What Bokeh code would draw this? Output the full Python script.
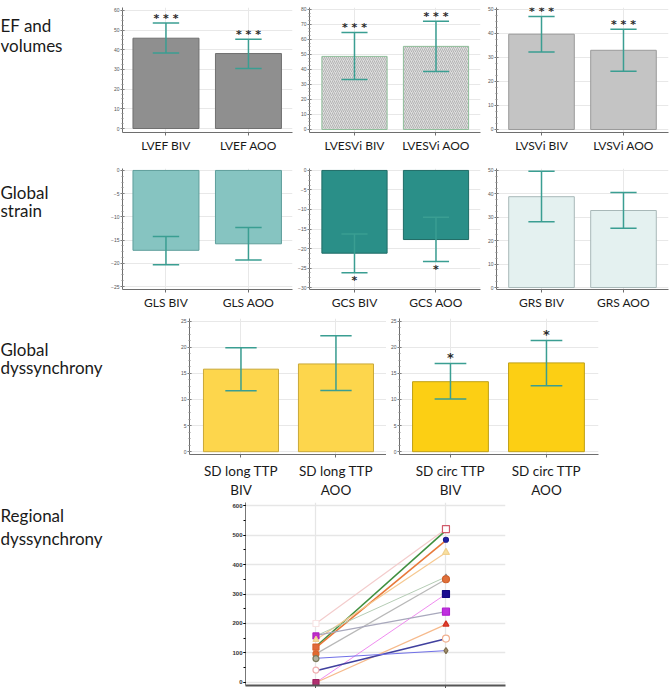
from bokeh.plotting import figure
from bokeh.models import Range1d, FixedTicker, ColumnDataSource, Spacer
from bokeh.layouts import row, column
from bokeh.embed import file_html
from bokeh.resources import INLINE
from bokeh.core.properties import value

# ---------------- data ----------------
lvef_labels = ["LVEF BIV", "LVEF AOO"]
lvef_mean = [45.9, 38.1]
lvef_lo = [38.4, 30.5]
lvef_hi = [53.6, 45.4]
lvef_sig = ["* * *", "* * *"]

lvesvi_labels = ["LVESVi BIV", "LVESVi AOO"]
lvesvi_mean = [48.7, 55.4]
lvesvi_lo = [33.3, 38.7]
lvesvi_hi = [64.6, 72.2]
lvesvi_sig = ["* * *", "* * *"]

lvsvi_labels = ["LVSVi BIV", "LVSVi AOO"]
lvsvi_mean = [39.7, 33.0]
lvsvi_lo = [32.3, 24.3]
lvsvi_hi = [47.1, 41.8]
lvsvi_sig = ["* * *", "* * *"]

gls_labels = ["GLS BIV", "GLS AOO"]
gls_mean = [-17.2, -15.8]
gls_lo = [-20.3, -19.3]
gls_hi = [-14.2, -12.3]

gcs_labels = ["GCS BIV", "GCS AOO"]
gcs_mean = [-21.2, -17.7]
gcs_lo = [-26.2, -23.3]
gcs_hi = [-16.3, -12.0]
gcs_sig = ["*", "*"]

grs_labels = ["GRS BIV", "GRS AOO"]
grs_mean = [38.8, 32.9]
grs_lo = [28.1, 25.3]
grs_hi = [49.7, 40.6]

sdl_labels = ["SD long TTP\nBIV", "SD long TTP\nAOO"]
sdl_mean = [15.8, 16.8]
sdl_lo = [11.65, 11.7]
sdl_hi = [19.9, 22.2]

sdc_labels = ["SD circ TTP\nBIV", "SD circ TTP\nAOO"]
sdc_mean = [13.4, 17.0]
sdc_lo = [10.1, 12.6]
sdc_hi = [16.9, 21.3]
sdc_sig = ["*", "*"]

# regional dyssynchrony (AOO -> BIV), one entry per patient line
reg_aoo = [200, 122, 118, 145, 158, 97, 0, 160, 0, 40, 82]
reg_biv = [520, 516, 482, 441, 358, 350, 300, 240, 197, 148, 108]
reg_line_colors = ["#f3cccc", "#3f8f3f", "#e8793a", "#f6c890", "#b5cdb5", "#b8b8b8",
                   "#f08cf0", "#a8a8bc", "#f6ba8c", "#40409e", "#7070e8"]
reg_line_widths = [1.2, 1.6, 1.6, 1.2, 1.0, 1.2, 1.0, 1.2, 1.3, 1.6, 1.0]

left_marker_vals = [200, 158, 145, 120, 97, 81, 42, 0]
left_marker_types = ["square", "square", "triangle", "square", "circle", "circle", "circle", "square"]
left_marker_line = ["#f8e4e4", "#b020c0", "#f0d090", "#d8602a", "#d8602a", "#7a7a5a", "#f0b0b0", "#a02060"]
left_marker_fill = ["white", "#c030c8", "#f8e0a0", "#e06a3a", "#e06a30", "#b0b0a0", "white", "#b03070"]

right_marker_vals = [520, 484, 441, 358, 350, 300, 240, 197, 149, 108]
right_marker_types = ["square", "circle", "triangle", "triangle", "circle", "square", "square",
                      "triangle", "circle", "diamond"]
right_marker_line = ["#d05a6a", "#1a1a90", "#f0d090", "#909090", "#d0602a", "#140a80", "#b020d0",
                     "#d03020", "#f0b090", "#807050"]
right_marker_fill = ["white", "#2020a0", "#f8e0a0", "#a0a0a0", "#e0703a", "#1c0c90", "#c030e0",
                     "#e04030", "white", "#a09070"]
right_marker_sizes = [7, 5, 7, 5, 7, 7, 7, 6, 7, 6]
reg_ticks = [0, 100, 200, 300, 400, 500, 600]

LABEL_FONT = "Lato"
ERR = "#3a9e92"
XS = [1, 2]


def text_fig(w, h, lines, ys):
    p = figure(width=w, height=h, x_range=Range1d(0, w), y_range=Range1d(h, 0),
               output_backend="svg", toolbar_location=None, min_border=0)
    p.axis.visible = False
    p.grid.visible = False
    p.outline_line_color = None
    p.text(x=[0] * len(lines), y=ys, text=lines, text_baseline="middle", text_align="left",
           text_font=value(LABEL_FONT), text_font_size="17px", text_color="#1a1a1a")
    return p


def bar_panel(labels, mean, lo, hi, width, height, bl, br, bt, bb, xr, yr, ticks, minor,
              fill, line, hatch=None, sig=None, sig_below=False, star_size="11px", star_off=0,
              label_size="12px", bar_w=0.8, cap_w=0.32, standoff=2):
    p = figure(width=width, height=height, x_range=Range1d(*xr), y_range=Range1d(*yr),
               output_backend="svg", toolbar_location=None,
               min_border_left=bl, min_border_right=br, min_border_top=bt, min_border_bottom=bb)
    p.outline_line_color = None
    src = ColumnDataSource(dict(x=XS, mean=mean, lo=lo, hi=hi,
                                cx0=[x - cap_w / 2 for x in XS], cx1=[x + cap_w / 2 for x in XS]))
    kw = {}
    if hatch:
        kw = dict(hatch_pattern=hatch, hatch_color="#a8a8a8", hatch_scale=4, hatch_weight=0.8)
    p.vbar(x="x", top="mean", bottom=0, width=bar_w, fill_color=fill, line_color=line,
           line_width=1, source=src, **kw)
    p.segment(x0="x", x1="x", y0="lo", y1="hi", line_color=ERR, line_width=1.5, source=src)
    p.segment(x0="cx0", x1="cx1", y0="lo", y1="lo", line_color=ERR, line_width=1.5, source=src)
    p.segment(x0="cx0", x1="cx1", y0="hi", y1="hi", line_color=ERR, line_width=1.5, source=src)
    if sig:
        p.text(x=XS, y=lo if sig_below else hi, text=sig, text_align="center",
               text_baseline="alphabetic", text_font=value("DejaVu Sans"), text_font_style="bold",
               text_font_size=star_size, text_color="#2a2a2a", y_offset=star_off)
    p.xaxis.ticker = FixedTicker(ticks=XS)
    p.xaxis.major_label_overrides = {1: labels[0], 2: labels[1]}
    p.xaxis.major_label_text_font = LABEL_FONT
    p.xaxis.major_label_text_font_size = label_size
    p.xaxis.major_label_text_color = "#1a1a1a"
    p.xaxis.major_label_standoff = standoff
    p.xaxis.major_tick_out = 3
    p.xaxis.major_tick_in = 0
    p.xaxis.minor_tick_out = 0
    p.yaxis.ticker = FixedTicker(ticks=ticks, minor_ticks=minor)
    p.yaxis.major_label_text_font_size = "5px"
    p.yaxis.major_label_text_color = "#555555"
    p.yaxis.major_label_standoff = 1
    p.yaxis.major_tick_out = 2
    p.yaxis.major_tick_in = 2
    p.yaxis.minor_tick_out = 1
    p.yaxis.minor_tick_in = 1
    for ax in (p.xaxis, p.yaxis):
        ax.axis_line_color = "#6e6e6e"
        ax.major_tick_line_color = "#6e6e6e"
        ax.minor_tick_line_color = "#8e8e8e"
    p.xgrid.ticker = FixedTicker(ticks=XS)
    p.grid.grid_line_color = "#e8e8e8"
    return p


def rng(start, step):
    out = []
    v = start[0]
    while v <= start[1] + 1e-9:
        out.append(v)
        v += step
    return out


# ---------------- row 1 ----------------
r1_h = 158
t1 = text_fig(108, r1_h, ["EF and", "volumes"], [23, 48])
pA = bar_panel(lvef_labels, lvef_mean, lvef_lo, lvef_hi, 187, r1_h, 14, 3, 7, 26,
               (0.473, 2.534), (-2.03, 61.5), rng((0, 60), 10), rng((0, 60), 2.5),
               "#8f8f8f", "#707070", sig=lvef_sig, star_off=-5)
pB = bar_panel(lvesvi_labels, lvesvi_mean, lvesvi_lo, lvesvi_hi, 188, r1_h, 14, 3, 7, 26,
               (0.448, 2.546), (-2.0, 81.3), rng((0, 80), 10), rng((0, 80), 2.5),
               "#dedede", "#8fbf9a", hatch="/", sig=lvesvi_sig, star_off=-5)
pC = bar_panel(lvsvi_labels, lvsvi_mean, lvsvi_lo, lvsvi_hi, 187, r1_h, 13, 2, 7, 26,
               (0.451, 2.549), (-1.25, 50.83), rng((0, 50), 10), rng((0, 50), 2.5),
               "#c4c4c4", "#9a9a9a", sig=lvsvi_sig, star_off=-5)

# ---------------- row 2 ----------------
r2_h = 154
t2 = text_fig(108, r2_h, ["Global", "strain"], [30, 54])
pD = bar_panel(gls_labels, gls_mean, gls_lo, gls_hi, 187, r2_h, 14, 3, 10, 21,
               (0.473, 2.534), (-25.64, 0.42), rng((-25, 0), 5), rng((-25, 0), 1.25),
               "#86c4c1", "#5e9e9b")
pE = bar_panel(gcs_labels, gcs_mean, gcs_lo, gcs_hi, 188, r2_h, 14, 3, 10, 21,
               (0.448, 2.546), (-30.5, 0.5), rng((-30, 0), 5), rng((-30, 0), 1.25),
               "#2a8f88", "#1f6c66", sig=gcs_sig, sig_below=True, star_off=8)
pF = bar_panel(grs_labels, grs_mean, grs_lo, grs_hi, 187, r2_h, 13, 2, 10, 21,
               (0.451, 2.549), (-0.84, 50.84), rng((0, 50), 10), rng((0, 50), 2.5),
               "#e4f1f0", "#a8b8b8")

# ---------------- row 3 ----------------
r3_h = 188
t3 = text_fig(175, r3_h, ["Global", "dyssynchrony"], [43, 68])
pG = bar_panel(sdl_labels, sdl_mean, sdl_lo, sdl_hi, 211, r3_h, 14, 0, 6, 38,
               (0.458, 2.532), (-0.54, 25.5), rng((0, 25), 5), rng((0, 25), 1.25),
               "#fdd64c", "#c9a838", label_size="13.5px", bar_w=0.79, cap_w=0.33, standoff=5)
pH = bar_panel(sdc_labels, sdc_mean, sdc_lo, sdc_hi, 214, r3_h, 13, 2, 6, 38,
               (0.469, 2.542), (-0.54, 25.5), rng((0, 25), 5), rng((0, 25), 1.25),
               "#fccf14", "#bfa016", sig=sdc_sig, star_size="13px", star_off=-6,
               label_size="13.5px", bar_w=0.79, cap_w=0.33, standoff=5)

# ---------------- row 4 ----------------
r4_h = 188
t4 = text_fig(229, r4_h, ["Regional", "dyssynchrony"], [13, 37])
pR = figure(width=278, height=r4_h, x_range=Range1d(-0.542, 1.458), y_range=Range1d(-10.2, 610.2),
            output_backend="svg", toolbar_location=None,
            min_border_left=14, min_border_right=2, min_border_top=2, min_border_bottom=3)
pR.outline_line_color = None
pR.multi_line(xs=[[0, 1] for _ in reg_aoo], ys=[[a, b] for a, b in zip(reg_aoo, reg_biv)],
              line_color=reg_line_colors, line_width=reg_line_widths)
pR.scatter(x=[0] * len(left_marker_vals), y=left_marker_vals, marker=left_marker_types,
           size=6, line_color=left_marker_line, fill_color=left_marker_fill, line_width=1.2)
pR.scatter(x=[1] * len(right_marker_vals), y=right_marker_vals, marker=right_marker_types,
           size=right_marker_sizes, line_color=right_marker_line, fill_color=right_marker_fill,
           line_width=1.2)
pR.xaxis.ticker = FixedTicker(ticks=[0, 1])
pR.xaxis.major_label_overrides = {0: "", 1: ""}
pR.xaxis.major_label_text_font_size = "1px"
pR.xaxis.major_label_standoff = 0
pR.xaxis.major_tick_out = 3
pR.xaxis.major_tick_in = 0
pR.xaxis.axis_line_width = 2
pR.xaxis.axis_line_color = "#555555"
pR.xaxis.major_tick_line_color = "#555555"
pR.yaxis.ticker = FixedTicker(ticks=reg_ticks, minor_ticks=rng((0, 600), 50))
pR.yaxis.major_label_text_font_size = "6px"
pR.yaxis.major_label_text_font_style = "bold"
pR.yaxis.major_label_text_color = "#333333"
pR.yaxis.major_label_standoff = 1
pR.yaxis.major_tick_out = 2
pR.yaxis.major_tick_in = 0
pR.yaxis.minor_tick_out = 2
pR.yaxis.minor_tick_in = 0
pR.yaxis.axis_line_color = "#777777"
pR.xgrid.ticker = FixedTicker(ticks=[0, 1])
pR.grid.grid_line_color = "#e6e6e6"
pR.grid.grid_line_width = 1.3

layout = column(
    row(t1, pA, pB, pC),
    row(t2, pD, pE, pF),
    row(t3, pG, pH, Spacer(width=70, height=r3_h)),
    row(t4, pR, Spacer(width=163, height=r4_h)),
)

open("out.html", "w").write(file_html(layout, INLINE))
